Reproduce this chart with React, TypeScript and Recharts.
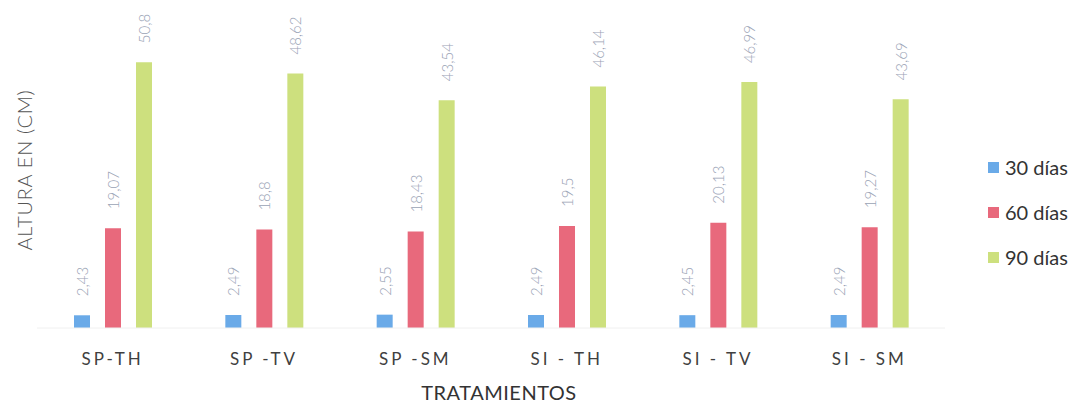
import { BarChart, Bar, XAxis, YAxis, LabelList, Label } from 'recharts';

const categories = ['SP-TH', 'SP -TV', 'SP -SM', 'SI - TH', 'SI - TV', 'SI - SM'];
const dias30 = [2.43, 2.49, 2.55, 2.49, 2.45, 2.49];
const dias60 = [19.07, 18.8, 18.43, 19.5, 20.13, 19.27];
const dias90 = [50.8, 48.62, 43.54, 46.14, 46.99, 43.69];
const seriesNames = ['30 días', '60 días', '90 días'];
const seriesKeys = ['d30', 'd60', 'd90'];
const colors = ['#6aaae8', '#e8697c', '#cde07e'];

const data = categories.map((name, i) => ({
  name,
  d30: dias30[i],
  d60: dias60[i],
  d90: dias90[i],
}));

const FONT = 'Lato, "Open Sans", sans-serif';

const fmt = (v: number) => String(v).replace('.', ',');

const ValueLabel = (props: any) => {
  const { x, y, width, value } = props;
  const cx = x + width / 2;
  const cy = y - 19;
  return (
    <text
      x={cx}
      y={cy}
      transform={`rotate(-90 ${cx} ${cy})`}
      textAnchor="start"
      dominantBaseline="central"
      fontFamily={FONT}
      fontWeight={300}
      fontSize={15}
      fill="#9aa3b5"
    >
      {fmt(value)}
    </text>
  );
};

const Tick = (props: any) => {
  const { x, y, payload } = props;
  return (
    <text
      x={x}
      y={y + 29}
      textAnchor="middle"
      fontFamily={FONT}
      fontSize={17}
      letterSpacing={3}
      fill="#404040"
    >
      {payload.value}
    </text>
  );
};

const YTitle = (p: any) => {
  const vb = p.viewBox;
  const cx = vb.x + 24;
  const cy = vb.y + vb.height / 2 - 1;
  return (
    <text
      x={cx}
      y={cy}
      transform={`rotate(-90 ${cx} ${cy})`}
      textAnchor="middle"
      dominantBaseline="central"
      fontFamily={FONT}
      fontWeight={300}
      fontSize={20}
      letterSpacing={0.7}
      fill="#555555"
    >
      ALTURA EN (CM)
    </text>
  );
};

const XTitle = (p: any) => {
  const vb = p.viewBox;
  return (
    <text
      x={vb.x + vb.width / 2 + 8}
      y={400}
      textAnchor="middle"
      fontFamily={FONT}
      fontSize={20}
      letterSpacing={0.5}
      fill="#333333"
    >
      TRATAMIENTOS
    </text>
  );
};

export default function App() {
  return (
    <div style={{ position: 'absolute', left: 0, top: 0, width: 1083, height: 405 }}>
      <BarChart
        width={1083}
        height={405}
        data={data}
        margin={{ top: 14, right: 138, bottom: 0, left: 0 }}
        barSize={16}
        barGap={15}
      >
        <XAxis
          dataKey="name"
          height={77}
          tickLine={false}
          axisLine={{ stroke: '#f0f0f0' }}
          tick={<Tick />}
          interval={0}
          label={<XTitle />}
        />
        <YAxis
          width={37}
          domain={[0, 60]}
          tick={false}
          axisLine={false}
          tickLine={false}
          label={<YTitle />}
        />
        {seriesKeys.map((k, i) => (
          <Bar key={k} dataKey={k} name={seriesNames[i]} fill={colors[i]} isAnimationActive={false}>
            <LabelList dataKey={k} content={<ValueLabel />} />
          </Bar>
        ))}
      </BarChart>
      <div style={{ position: 'absolute', left: 988, top: 154, fontFamily: FONT }}>
        {seriesNames.map((n, i) => (
          <div key={n} style={{ display: 'flex', alignItems: 'center', height: 26, marginBottom: 19 }}>
            <span style={{ width: 11, height: 11, background: colors[i], marginRight: 6 }} />
            <span style={{ fontSize: 20, color: '#333333' }}>{n}</span>
          </div>
        ))}
      </div>
    </div>
  );
}
